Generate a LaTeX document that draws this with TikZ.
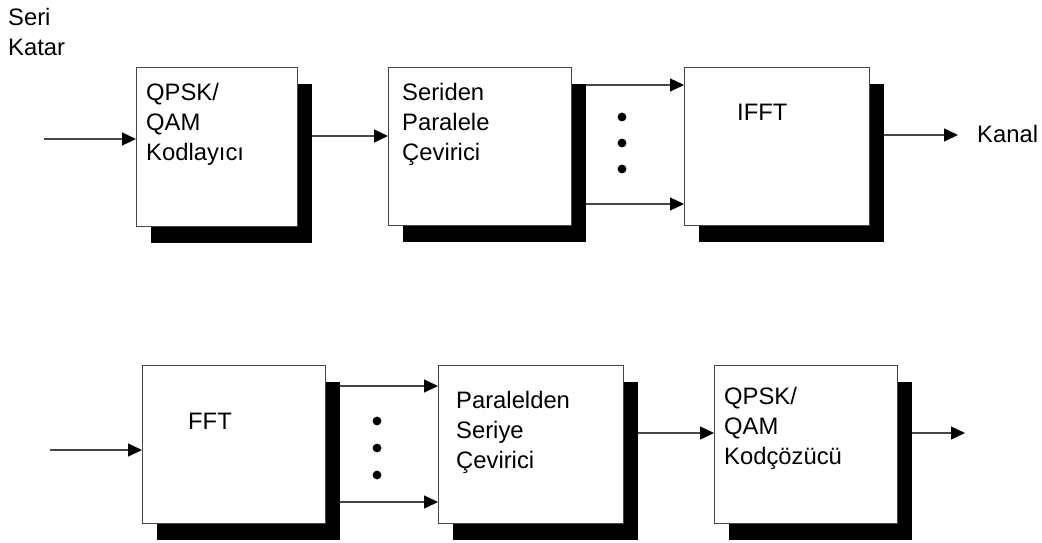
\documentclass[tikz,border=0pt]{standalone}
\usepackage{fontspec}
\setmainfont{Liberation Sans}
\usetikzlibrary{arrows.meta}
\begin{document}
\begin{tikzpicture}[x=1pt,y=-1pt,
  blk/.style={draw=black!72, line width=1.3pt, fill=white, inner sep=0pt, anchor=north west},
  shd/.style={fill=black, draw=none, inner sep=0pt, anchor=north west},
  lbl/.style={inner sep=0pt, anchor=north west, align=left, font=\fontsize{23.8}{30}\selectfont},
  arr/.style={draw=black!72, line width=1.3pt, -{Triangle[length=14pt,width=13pt,color=black]}},
  dot/.style={fill=black}]
\useasboundingbox (0,0) rectangle (1042,542);
% ---------- top row ----------
\node[shd, minimum width=161pt, minimum height=159pt] (s1) at (151,84) {};
\node[blk, minimum width=161pt, minimum height=159pt] (b1) at (136,67) {};
\node[shd, minimum width=183pt, minimum height=158pt] (s2) at (403,84) {};
\node[blk, minimum width=183pt, minimum height=158pt] (b2) at (388,67) {};
\node[shd, minimum width=185pt, minimum height=158pt] (s3) at (699,84) {};
\node[blk, minimum width=185pt, minimum height=158pt] (b3) at (684,67) {};
\node[lbl] (tseri) at (8,7) {\rule{0pt}{18pt}Seri\\Katar};
\node[lbl] (t1) at (146,82) {\rule{0pt}{18pt}QPSK/\\QAM\\Kodlayıcı};
\node[lbl] (t2) at (402,82) {\rule{0pt}{18pt}Seriden\\Paralele\\Çevirici};
\node[lbl] (t3) at (737,102) {\rule{0pt}{18pt}IFFT};
\node[lbl] (kanal) at (977,124) {\rule{0pt}{18pt}Kanal};
\coordinate (in1) at (44,139);
\coordinate (ya) at (0,136);
\coordinate (yb) at (0,85);
\coordinate (yc) at (0,204);
\coordinate (yd) at (0,135);
\coordinate (out1) at (958,135);
\draw[arr] (in1) -- (in1 -| b1.west);
\draw[arr] (s1.east |- ya) -- (b2.west |- ya);
\draw[arr] (s2.east |- yb) -- (b3.west |- yb);
\draw[arr] (s2.east |- yc) -- (b3.west |- yc);
\draw[arr] (s3.east |- yd) -- (out1);
\fill[dot] (622,117) circle (4.4pt);
\fill[dot] (622,143) circle (4.4pt);
\fill[dot] (622,169) circle (4.4pt);
% ---------- bottom row ----------
\node[shd, minimum width=183pt, minimum height=158pt] (s4) at (157,382) {};
\node[blk, minimum width=183pt, minimum height=158pt] (b4) at (142,365) {};
\node[shd, minimum width=185pt, minimum height=158pt] (s5) at (453,382) {};
\node[blk, minimum width=185pt, minimum height=158pt] (b5) at (438,365) {};
\node[shd, minimum width=183pt, minimum height=158pt] (s6) at (729,382) {};
\node[blk, minimum width=183pt, minimum height=158pt] (b6) at (714,365) {};
\node[lbl] (t4) at (188,411) {\rule{0pt}{18pt}FFT};
\node[lbl] (t5) at (456,390) {\rule{0pt}{18pt}Paralelden\\Seriye\\Çevirici};
\node[lbl] (t6) at (724,386) {\rule{0pt}{18pt}QPSK/\\QAM\\Kodçözücü};
\coordinate (in2) at (50,450);
\coordinate (ye) at (0,386);
\coordinate (yf) at (0,502);
\coordinate (yg) at (0,433);
\coordinate (out2) at (965,433);
\draw[arr] (in2) -- (in2 -| b4.west);
\draw[arr] (s4.east |- ye) -- (b5.west |- ye);
\draw[arr] (s4.east |- yf) -- (b5.west |- yf);
\draw[arr] (s5.east |- yg) -- (b6.west |- yg);
\draw[arr] (s6.east |- yg) -- (out2);
\fill[dot] (377,421) circle (4.4pt);
\fill[dot] (377,448) circle (4.4pt);
\fill[dot] (377,475) circle (4.4pt);
\end{tikzpicture}
\end{document}
